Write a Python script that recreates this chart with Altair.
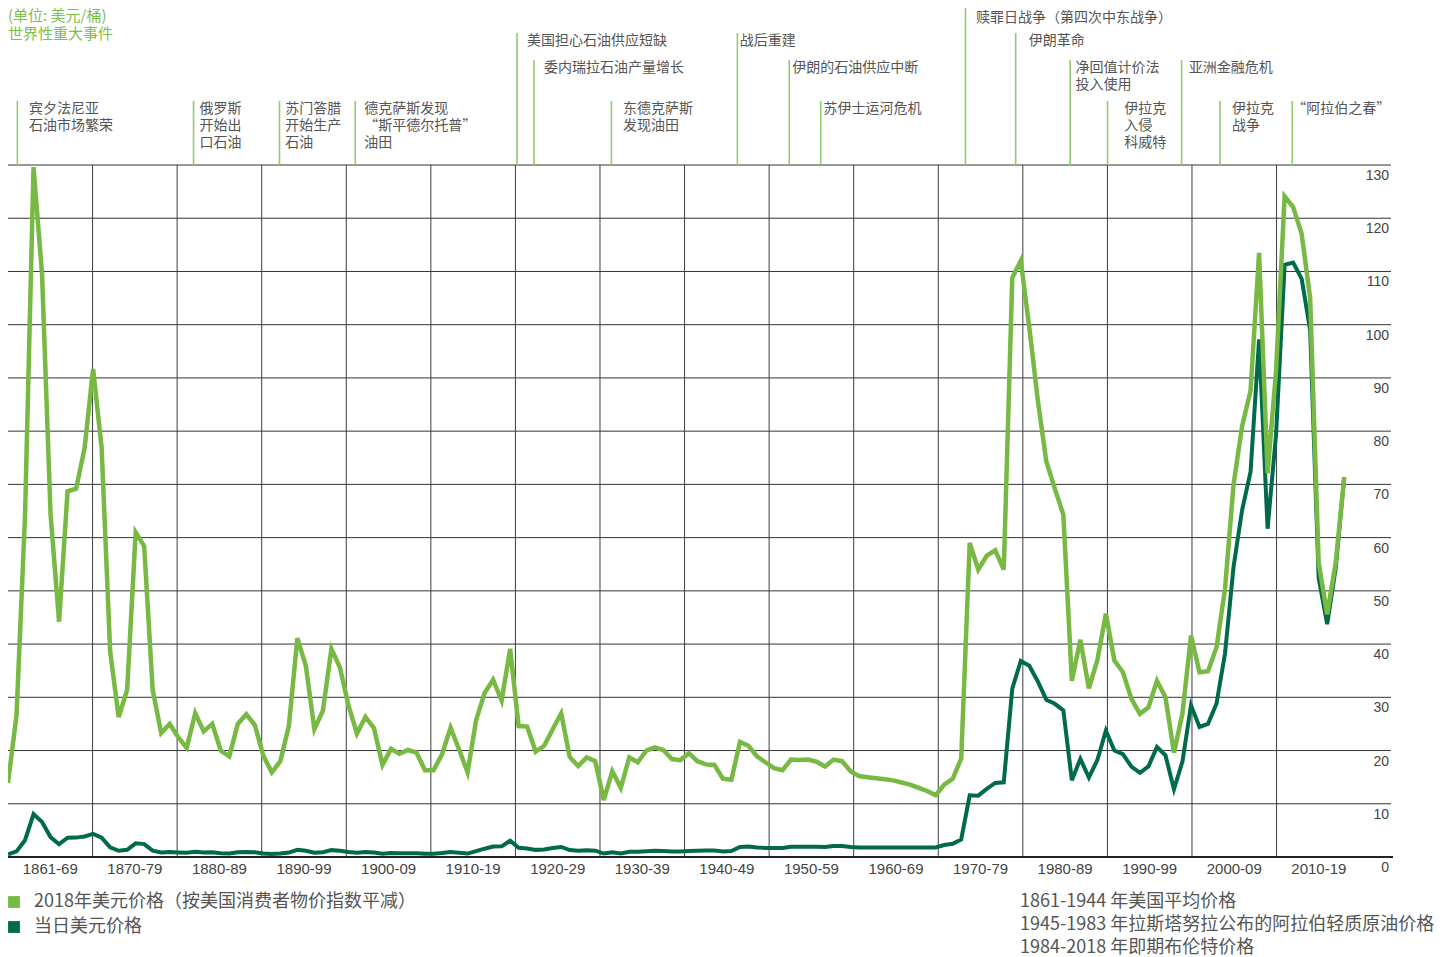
import altair as alt
import pandas as pd

# ---------------- data ----------------
years = list(range(1861, 2019))

real_2018_usd = [
    13.9, 26.6, 64.1, 129.6, 109.5, 64.4, 44.2, 68.7, 69.2,
    76.8, 91.7, 76.9, 38.7, 26.3, 31.4, 61.0, 58.4, 31.4, 23.3,
    25.0, 22.5, 20.5, 27.0, 23.6, 25.0, 20.0, 18.9, 25.0, 26.8,
    24.8, 19.0, 15.9, 18.0, 24.6, 41.1, 35.9, 24.0, 27.5, 39.1,
    35.6, 28.5, 23.2, 26.3, 24.2, 17.3, 20.3, 19.4, 20.1, 19.6,
    16.3, 16.3, 19.3, 24.3, 20.2, 15.9, 25.7, 30.8, 33.3, 29.4,
    39.1, 24.6, 24.5, 19.8, 20.9, 24.0, 27.0, 18.8, 17.1, 18.7,
    18.0, 10.7, 16.1, 13.0, 18.7, 17.8, 20.0, 20.6, 20.1, 18.4,
    18.2, 19.5, 18.0, 17.4, 17.3, 14.7, 14.5, 21.6, 20.9, 18.9,
    17.8, 16.7, 16.3, 18.3, 18.2, 18.3, 17.9, 17.0, 18.3, 18.0,
    16.1, 15.2, 15.0, 14.8, 14.6, 14.4, 14.0, 13.6, 13.0, 12.4,
    11.6, 13.6, 14.7, 18.5, 59.0, 54.0, 56.6, 57.6, 54.0, 108.8,
    112.0, 99.5, 85.8, 74.3, 69.2, 64.3, 33.1, 40.8, 31.7, 37.0,
    45.7, 36.9, 34.7, 29.7, 26.9, 28.1, 33.1, 30.0, 19.6, 27.0,
    41.6, 34.7, 34.9, 39.4, 50.4, 70.0, 80.9, 87.6, 113.5, 72.1,
    91.4, 124.1, 122.1, 117.1, 105.0, 55.3, 45.6, 55.3, 71.3,
]

nominal_usd = [
    0.49, 1.05, 3.15, 8.06, 6.59, 3.74, 2.41, 3.63, 3.64,
    3.86, 4.34, 3.64, 1.83, 1.17, 1.35, 2.56, 2.42, 1.19, 0.86,
    0.95, 0.86, 0.78, 1.00, 0.84, 0.88, 0.71, 0.67, 0.88, 0.94,
    0.87, 0.67, 0.56, 0.64, 0.84, 1.36, 1.18, 0.79, 0.91, 1.29,
    1.19, 0.96, 0.80, 0.94, 0.86, 0.62, 0.73, 0.72, 0.72, 0.70,
    0.61, 0.61, 0.74, 0.95, 0.81, 0.64, 1.10, 1.56, 1.98, 2.01,
    3.07, 1.73, 1.61, 1.34, 1.43, 1.68, 1.88, 1.30, 1.17, 1.27,
    1.19, 0.65, 0.87, 0.67, 1.00, 0.97, 1.09, 1.18, 1.13, 1.02,
    1.02, 1.14, 1.19, 1.20, 1.21, 1.05, 1.12, 1.90, 1.99, 1.78,
    1.71, 1.71, 1.71, 1.93, 1.93, 1.93, 1.93, 1.90, 2.08, 2.08,
    1.90, 1.80, 1.80, 1.80, 1.80, 1.80, 1.80, 1.80, 1.80, 1.80,
    1.80, 2.24, 2.48, 3.29, 11.58, 11.53, 12.80, 13.92, 14.02, 31.61,
    36.83, 35.93, 32.97, 29.55, 28.78, 27.56, 14.43, 18.44, 14.92, 18.23,
    23.73, 20.00, 19.32, 16.97, 15.82, 17.02, 20.67, 19.09, 12.72, 17.97,
    28.50, 24.44, 25.02, 28.83, 38.27, 54.52, 65.14, 72.39, 97.26, 61.67,
    79.50, 111.26, 111.67, 108.66, 98.95, 52.39, 43.73, 54.19, 71.31,
]

decade_labels = ["1861-69", "1870-79", "1880-89", "1890-99", "1900-09", "1910-19",
                 "1920-29", "1930-39", "1940-49", "1950-59", "1960-69", "1970-79",
                 "1980-89", "1990-99", "2000-09", "2010-19"]

y_ticks = list(range(0, 131, 10))

series_names = ["2018年美元价格（按美国消费者物价指数平减）", "当日美元价格"]

event_labels = [
    "宾夕法尼亚\n石油市场繁荣",
    "俄罗斯\n开始出\n口石油",
    "苏门答腊\n开始生产\n石油",
    "德克萨斯发现\n“斯平德尔托普”\n油田",
    "美国担心石油供应短缺",
    "委内瑞拉石油产量增长",
    "东德克萨斯\n发现油田",
    "战后重建",
    "伊朗的石油供应中断",
    "苏伊士运河危机",
    "赎罪日战争（第四次中东战争）",
    "伊朗革命",
    "净回值计价法\n投入使用",
    "伊拉克\n入侵\n科威特",
    "亚洲金融危机",
    "伊拉克\n战争",
    "“阿拉伯之春”",
]
event_years = [1862.1, 1882.8, 1892.9, 1901.8, 1920.8, 1922.8, 1931.9, 1946.7,
               1952.8, 1956.5, 1973.5, 1979.4, 1985.8, 1990.2, 1998.9, 2003.4, 2011.9]
event_rows = [3, 3, 3, 3, 1, 2, 3, 1, 2, 3, 0, 1, 2, 3, 2, 3, 3]

header_texts = ["(单位: 美元/桶)", "世界性重大事件"]

note_texts = ["1861-1944 年美国平均价格",
              "1945-1983 年拉斯塔努拉公布的阿拉伯轻质原油价格",
              "1984-2018 年即期布伦特价格"]

assert len(real_2018_usd) == len(years) == len(nominal_usd)

# ---------------- layout / style ----------------
W, H = 1383, 692
YEAR_DOMAIN = [1861, 2023.5]
PX_PER_YEAR = W / (YEAR_DOMAIN[1] - YEAR_DOMAIN[0])
COL_W = 84.57
COL_DOMAIN = [0, W / COL_W]

LIGHT = "#77b943"
DARK = "#006a4c"
EVENT_LINE = "#90cb70"
HEAD_GREEN = "#7cc04a"
TXT = "#555555"
CJK = "Noto Sans CJK SC"
LAT = "Liberation Sans"

row_line_top = {0: -157, 1: -132, 2: -105, 3: -64}
row_text_top = {0: -154, 1: -131, 2: -104, 3: -63}
label_gap = [11.6, 6, 5.7, 9, 10, 10, 11.7, 2.3, 3, 2.7, 10.5, 13, 5.3, 16.7, 7, 12, 0]


def year_x(field):
    return alt.X(field, type="quantitative",
                 scale=alt.Scale(domain=YEAR_DOMAIN, nice=False, zero=False), axis=None)


def col_x(field):
    return alt.X(field, type="quantitative",
                 scale=alt.Scale(domain=COL_DOMAIN, nice=False, zero=False), axis=None)


prices = pd.DataFrame({"year": years, "real": real_2018_usd, "nominal": nominal_usd})

# horizontal grid + right-side value labels (below each line)
tick_df = pd.DataFrame({"v": y_ticks})
hgrid = alt.Chart(tick_df).mark_rule(color="#333333", strokeWidth=1).encode(
    y=alt.Y("v:Q", axis=None), x=alt.value(0), x2=alt.value(W))
ylabels = alt.Chart(tick_df).mark_text(font=LAT, fontSize=14, color="#444444", align="right",
                                       baseline="middle", dy=11).encode(
    y=alt.Y("v:Q", axis=None), x=alt.value(W - 2), text="v:Q")

# vertical decade grid
grid_df = pd.DataFrame({"col": list(range(1, len(decade_labels)))})
vgrid = alt.Chart(grid_df).mark_rule(color="#3c3c3c", strokeWidth=1).encode(
    x=col_x("col"), y=alt.value(0), y2=alt.value(H))

dec_df = pd.DataFrame({"col": [i + 0.5 for i in range(len(decade_labels))], "label": decade_labels})
dec_text = alt.Chart(dec_df).mark_text(font=LAT, fontSize=15, color="#444444",
                                       baseline="middle", align="center").encode(
    x=col_x("col"), y=alt.value(H + 12), text="label:N")

nominal_line = alt.Chart(prices).mark_line(color=DARK, strokeWidth=4, clip=True).encode(
    x=year_x("year"),
    y=alt.Y("nominal:Q", scale=alt.Scale(domain=[0, 130], nice=False), axis=None))

real_line = alt.Chart(prices).mark_line(color=LIGHT, strokeWidth=4.5, clip=True).encode(
    x=year_x("year"), y=alt.Y("real:Q", axis=None))

base_rule = alt.Chart(pd.DataFrame({"v": [0]})).mark_rule(color="#222222", strokeWidth=2).encode(
    y=alt.Y("v:Q", axis=None), x=alt.value(0), x2=alt.value(W + 2))

# event annotations
ev = pd.DataFrame({"year": event_years, "label": event_labels, "row": event_rows, "gap": label_gap})
ev["top"] = ev["row"].map(row_line_top)
ev["ttop"] = ev["row"].map(row_text_top)
ev["tx"] = ev["year"] + ev["gap"] / PX_PER_YEAR

ev_lines = alt.Chart(ev).mark_rule(color=EVENT_LINE, strokeWidth=1.6).encode(
    x=year_x("year"), y=alt.Y("top:Q", scale=None), y2=alt.value(0))

ev_text = alt.Chart(ev).mark_text(font=CJK, fontSize=14, color=TXT, align="left",
                                  baseline="top", lineBreak="\n", lineHeight=17).encode(
    x=year_x("tx"), y=alt.Y("ttop:Q", scale=None), text="label:N")

head_df = pd.DataFrame({"t": header_texts, "py": [-149, -131]})
head = alt.Chart(head_df).mark_text(font=CJK, fontSize=15, color=HEAD_GREEN, align="left",
                                    baseline="middle").encode(
    x=alt.value(0), y=alt.Y("py:Q", scale=None), text="t:N")

# legend
leg_df = pd.DataFrame({"series": series_names, "py": [H + 45, H + 70]})
leg_sq = alt.Chart(leg_df).mark_square(size=140, opacity=1).encode(
    x=alt.value(6), y=alt.Y("py:Q", scale=None),
    color=alt.Color("series:N", scale=alt.Scale(domain=series_names, range=[LIGHT, DARK]), legend=None))
leg_txt = alt.Chart(leg_df).mark_text(font=CJK, fontSize=18, color=TXT, align="left",
                                      baseline="middle").encode(
    x=alt.value(26), y=alt.Y("py:Q", scale=None), text="series:N")

note_df = pd.DataFrame({"t": note_texts, "py": [H + 45, H + 68, H + 91]})
notes = alt.Chart(note_df).mark_text(font=CJK, fontSize=18, color=TXT, align="left",
                                     baseline="middle").encode(
    x=alt.value(1012), y=alt.Y("py:Q", scale=None), text="t:N")

chart = alt.layer(
    hgrid, vgrid, base_rule, ylabels, ev_lines, ev_text, head, dec_text,
    nominal_line, real_line, leg_sq, leg_txt, notes
).resolve_scale(x="independent").properties(
    width=W, height=H,
    autosize=alt.AutoSizeParams(type="none"),
    padding={"left": 0, "top": 157, "right": 48, "bottom": 100}
).configure_view(stroke=None)

chart.save("out.html", embed_options={"renderer": "svg", "actions": False})
